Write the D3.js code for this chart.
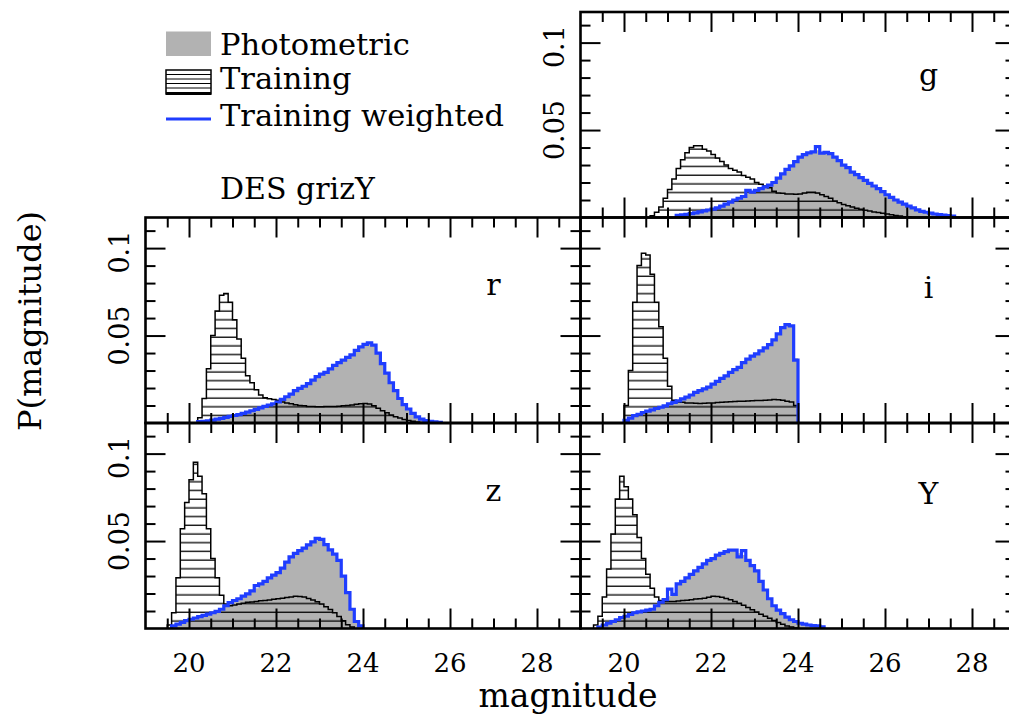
<!DOCTYPE html>
<html><head><meta charset="utf-8">
<script src="https://cdn.jsdelivr.net/npm/d3@7"></script>
<style>
body{margin:0;background:#fff}
svg{display:block}
text{font-family:"DejaVu Serif",serif;fill:#000}
</style>
</head><body>
<svg id="c" width="1009" height="722"></svg>
<script>
// ---------------- DATA ----------------
const bands = ["g", "r", "i", "z", "Y"];
const binWidth = 0.1;
const xMajorTicks = [20, 22, 24, 26, 28];
const xTickLabels = ["20", "22", "24", "26", "28"];
const yMajorTicks = [0.05, 0.1];
const yTickLabels = ["0.05", "0.1"];
const legendLabels = ["Photometric", "Training", "Training weighted"];
const surveyLabel = "DES grizY";

// g band
const gTrainStart = 20.6;
const gTrain = [.001,.003,.006,.011,.016,.022,.028,.033,.037,.040,.041,.041,.039,.038,.036,.034,.032,.030,.028,.027,.026,.024,.023,.022,.020,.019,.018,.017,.015,.014,.0138,.0135,.0135,.0133,.0135,.014,.0145,.0145,.014,.013,.012,.011,.0095,.0085,.0075,.0067,.006,.0053,.0047,.0042,.0037,.0032,.0028,.0024,.002,.0016,.0012,.0008,.0005,.0003];
const gPhotStart = 21.2;
const gPhot = [.0012,.0015,.0018,.0022,.0027,.0032,.0038,.0043,.0048,.0055,.0065,.0076,.0088,.0100,.011,.012,.0135,.0143,.0155,.0165,.0175,.0185,.020,.0225,.025,.0275,.0295,.032,.0345,.036,.037,.0375,.0385,.037,.0368,.0365,.0345,.0325,.030,.0285,.026,.0245,.0228,.0212,.0195,.018,.0165,.0148,.013,.0115,.010,.0088,.0076,.0065,.0055,.0044,.0035,.003,.0025,.002,.0017,.0014,.0011,.0008];
const gWeighted = [.0012,.0015,.0018,.0022,.0027,.0032,.0038,.0043,.0048,.0055,.0065,.0076,.0088,.0100,.011,.012,.0155,.0145,.0155,.0165,.0175,.0185,.020,.0225,.025,.0275,.0295,.032,.0345,.036,.037,.0375,.0405,.0368,.0372,.0365,.0345,.0325,.030,.0285,.026,.0245,.0228,.0212,.0195,.018,.0165,.0148,.013,.0115,.010,.0088,.0076,.0065,.0055,.0044,.0035,.003,.0025,.002,.0017,.0014,.0011,.0008];

// r band
const rTrainStart = 20.2;
const rTrain = [.003,.014,.031,.050,.064,.073,.074,.069,.059,.048,.037,.027,.023,.019,.016,.0145,.0138,.0135,.013,.012,.0115,.011,.0105,.010,.0098,.0095,.0094,.0093,.0093,.0094,.0094,.0095,.0096,.0098,.010,.0103,.0107,.011,.0112,.0108,.0098,.0085,.007,.0058,.0046,.0036,.0028,.002,.0015,.001,.0006,.0003];
const rPhotStart = 20.2;
const rPhot = [.0008,.001,.0013,.0017,.0022,.0027,.0032,.0038,.0043,.0048,.0055,.0062,.007,.0078,.0086,.0095,.0103,.011,.012,.0135,.015,.0165,.0185,.0198,.021,.0225,.0245,.0265,.028,.029,.031,.033,.0345,.036,.0375,.039,.0415,.0435,.045,.0452,.0445,.040,.034,.0285,.023,.0185,.014,.0105,.008,.0055,.0035,.0022,.0014,.001,.0007,.0004];
const rWeighted = [.0008,.001,.0013,.0017,.0022,.0027,.0032,.0038,.0043,.0048,.0055,.0062,.007,.0078,.0086,.0095,.0103,.011,.012,.0135,.015,.0165,.0185,.0198,.021,.0225,.0245,.0265,.028,.029,.031,.033,.0345,.036,.0375,.039,.0415,.0435,.045,.0458,.0445,.040,.034,.0285,.023,.0185,.014,.0105,.008,.0055,.0035,.0022,.0014,.001,.0007,.0004];

// i band
const iTrainStart = 20.0;
const iTrain = [.010,.030,.069,.090,.097,.096,.085,.069,.055,.037,.021,.013,.012,.0118,.0115,.0115,.0113,.0112,.0113,.0115,.0115,.0117,.0118,.012,.0122,.0123,.0124,.0125,.0126,.0127,.0128,.0128,.013,.0132,.0135,.0133,.013,.0125,.012,.010];
const iPhotStart = 20.0;
const iPhot = [.0015,.0028,.0042,.005,.006,.0068,.0075,.0083,.009,.0098,.011,.0118,.0127,.0138,.0148,.016,.0175,.0185,.0195,.0205,.0222,.0238,.0255,.027,.029,.0305,.0318,.0345,.0365,.0382,.0395,.0412,.043,.0448,.0475,.051,.0545,.0562,.0555,.037];
const iWeighted = [.0015,.0028,.0042,.005,.006,.0068,.0075,.0083,.009,.0098,.011,.0118,.0127,.0138,.0148,.016,.0175,.0185,.0195,.0205,.0222,.0238,.0255,.027,.029,.0305,.0318,.0345,.0365,.0382,.0395,.0412,.043,.0448,.0475,.051,.0545,.0562,.0555,.036];

// z band
const zTrainStart = 19.5;
const zTrain = [.002,.009,.029,.057,.072,.085,.095,.087,.077,.057,.040,.029,.019,.014,.013,.0135,.014,.0145,.015,.0152,.0155,.0158,.016,.0163,.0167,.017,.0173,.0177,.018,.0185,.0183,.018,.0172,.0163,.0153,.014,.0125,.0108,.009,.0068,.0045,.0022,.0008];
const zPhotStart = 19.6;
const zPhot = [.0015,.0025,.0035,.0045,.0053,.006,.0068,.0075,.0082,.009,.0098,.011,.013,.0148,.016,.017,.0185,.0198,.0215,.023,.0255,.027,.029,.0305,.032,.0345,.038,.041,.043,.0445,.046,.0478,.0495,.0505,.051,.048,.045,.0425,.039,.030,.0205,.011,.004,.0015];
const zWeighted = [.0015,.0025,.0035,.0045,.0053,.006,.0068,.0075,.0082,.009,.0098,.011,.013,.0148,.016,.017,.0185,.0198,.0215,.0245,.0255,.027,.029,.0305,.032,.0345,.038,.041,.043,.0445,.046,.0478,.0495,.0515,.051,.048,.045,.0425,.039,.030,.0205,.011,.004,.0015];

// Y band
const YTrainStart = 19.3;
const YTrain = [.002,.007,.018,.034,.054,.074,.087,.081,.074,.065,.052,.040,.031,.023,.018,.016,.0155,.0154,.0155,.0157,.016,.0162,.0165,.0168,.017,.0173,.0178,.0185,.0183,.0178,.0172,.0165,.0155,.0145,.0133,.012,.0107,.0094,.0082,.007,.0058,.0046,.0034,.0024,.0015,.0008,.0003];
const YPhotStart = 19.4;
const YPhot = [.0008,.002,.003,.004,.005,.0063,.007,.008,.009,.0095,.010,.0105,.011,.013,.015,.0165,.0185,.020,.0255,.027,.029,.031,.033,.035,.037,.039,.040,.042,.043,.044,.0448,.0448,.043,.042,.039,.036,.033,.027,.022,.017,.013,.0105,.0085,.0065,.005,.004,.003,.0025,.002,.0017,.0015,.001];
const YWeighted = [.0008,.002,.003,.004,.005,.0063,.007,.008,.009,.0095,.010,.0105,.011,.013,.015,.0165,.0225,.0195,.0255,.027,.029,.031,.033,.035,.037,.039,.040,.042,.043,.044,.0448,.0448,.041,.0445,.039,.036,.033,.027,.022,.017,.013,.0105,.0085,.0065,.005,.004,.003,.0025,.002,.0017,.0015,.001];

// ---------------- LAYOUT ----------------
const colX = [145.5, 580.5];
const rowY = [12, 217.5, 423];
const PW = 435, PH = 205.5;
const GRAY = "#b2b2b2", BLUE = "#1f3dff";

const panels = [
  {band: "g", row: 0, col: 1, tS: gTrainStart, t: gTrain, pS: gPhotStart, p: gPhot, w: gWeighted, ldy: 73},
  {band: "r", row: 1, col: 0, tS: rTrainStart, t: rTrain, pS: rPhotStart, p: rPhot, w: rWeighted, ldy: 77},
  {band: "i", row: 1, col: 1, tS: iTrainStart, t: iTrain, pS: iPhotStart, p: iPhot, w: iWeighted, ldy: 80},
  {band: "z", row: 2, col: 0, tS: zTrainStart, t: zTrain, pS: zPhotStart, p: zPhot, w: zWeighted, ldy: 78},
  {band: "Y", row: 2, col: 1, tS: YTrainStart, t: YTrain, pS: YPhotStart, p: YPhot, w: YWeighted, ldy: 81}
];

const svg = d3.select("#c");
const defs = svg.append("defs");

function stepPoints(start, vals) {
  const pts = [[start, 0]];
  vals.forEach((v, i) => {
    const a = start + i * binWidth;
    pts.push([a, v], [a + binWidth, v]);
  });
  pts.push([start + vals.length * binWidth, 0]);
  return pts;
}

const xMinor = d3.range(19.5, 29, 0.5).filter(v => Math.abs(v - Math.round(v)) > 0.1 || Math.round(v) % 2 === 1);
const yMinor = d3.range(0.01, 0.115, 0.01).filter(v => Math.abs(v - 0.05) > 1e-6 && Math.abs(v - 0.1) > 1e-6);

panels.forEach((pn, k) => {
  const x0 = colX[pn.col], y0 = rowY[pn.row];
  const x = d3.scaleLinear().domain([19, 29]).range([x0, x0 + PW]);
  const y = d3.scaleLinear().domain([0, 0.1175]).range([y0 + PH, y0]);

  const clipId = "clip" + k;
  defs.append("clipPath").attr("id", clipId).append("rect")
    .attr("x", x0).attr("y", y0).attr("width", PW).attr("height", PH);
  const patId = "hatch" + k;
  const pat = defs.append("pattern").attr("id", patId)
    .attr("patternUnits", "userSpaceOnUse")
    .attr("x", 0).attr("y", y0 + PH).attr("width", 20).attr("height", 8.7);
  pat.append("line").attr("x1", 0).attr("x2", 20).attr("y1", 1.2).attr("y2", 1.2)
    .attr("stroke", "#000").attr("stroke-width", 1.3);

  const g = svg.append("g").attr("clip-path", `url(#${clipId})`);
  const area = d3.area().x(d => x(d[0])).y0(y(0)).y1(d => y(d[1]));
  const line = d3.line().x(d => x(d[0])).y(d => y(d[1]));

  g.append("path").attr("d", area(stepPoints(pn.pS, pn.p))).attr("fill", GRAY);
  const tp = stepPoints(pn.tS, pn.t);
  g.append("path").attr("d", area(tp)).attr("fill", `url(#${patId})`);
  g.append("path").attr("d", line(tp)).attr("fill", "none").attr("stroke", "#000").attr("stroke-width", 1.5);
  g.append("path").attr("d", line(stepPoints(pn.pS, pn.w))).attr("fill", "none")
    .attr("stroke", BLUE).attr("stroke-width", 3.2).attr("stroke-linejoin", "miter");

  // ticks via d3 axes (all inward)
  const ax = svg.append("g");
  const addAxis = (gen, tx, ty) => {
    const a = ax.append("g").attr("transform", `translate(${tx},${ty})`).call(gen);
    a.select(".domain").remove();
    a.selectAll(".tick line").attr("stroke", "#000").attr("stroke-width", 2);
    a.selectAll(".tick text").remove();
  };
  addAxis(d3.axisBottom(x).tickValues(xMajorTicks).tickSize(-20), 0, y0 + PH);
  addAxis(d3.axisBottom(x).tickValues(xMinor).tickSize(-10), 0, y0 + PH);
  addAxis(d3.axisTop(x).tickValues(xMajorTicks).tickSize(-20), 0, y0);
  addAxis(d3.axisTop(x).tickValues(xMinor).tickSize(-10), 0, y0);
  addAxis(d3.axisLeft(y).tickValues(yMajorTicks).tickSize(-20), x0, 0);
  addAxis(d3.axisLeft(y).tickValues(yMinor).tickSize(-10), x0, 0);
  addAxis(d3.axisRight(y).tickValues(yMajorTicks).tickSize(-20), x0 + PW, 0);
  addAxis(d3.axisRight(y).tickValues(yMinor).tickSize(-10), x0 + PW, 0);

  svg.append("rect").attr("x", x0).attr("y", y0).attr("width", PW).attr("height", PH)
    .attr("fill", "none").attr("stroke", "#000").attr("stroke-width", 2.6);

  // band label
  svg.append("text").attr("x", x(27.0)).attr("y", y0 + pn.ldy)
    .attr("text-anchor", "middle").attr("font-size", 30).text(pn.band);

  // y tick labels
  if (pn.col === 0 || pn.row === 0) {
    yMajorTicks.forEach((v, j) => {
      svg.append("text")
        .attr("transform", `translate(${x0 - 16.5},${y(v) + (j === 1 ? 4 : 0)}) rotate(-90)`)
        .attr("text-anchor", "middle").attr("font-size", 27).text(yTickLabels[j]);
    });
  }
  // x tick labels
  if (pn.row === 2) {
    xMajorTicks.forEach((v, j) => {
      svg.append("text").attr("x", x(v)).attr("y", 672)
        .attr("text-anchor", "middle").attr("font-size", 26).text(xTickLabels[j]);
    });
  }
});

// axis titles
svg.append("text").attr("x", 568).attr("y", 707).attr("text-anchor", "middle")
  .attr("font-size", 33).text("magnitude");
svg.append("text").attr("transform", "translate(41,321) rotate(-90)")
  .attr("text-anchor", "middle").attr("font-size", 32).text("P(magnitude)");

// legend
const lg = svg.append("g");
lg.append("rect").attr("x", 166).attr("y", 31.5).attr("width", 45).attr("height", 24.5).attr("fill", GRAY);
lg.append("rect").attr("x", 166).attr("y", 70).attr("width", 45).attr("height", 24)
  .attr("fill", "#fff").attr("stroke", "#000").attr("stroke-width", 1.5);
[74.5, 79, 83.5, 88].forEach(yy => lg.append("line").attr("x1", 166).attr("x2", 211)
  .attr("y1", yy).attr("y2", yy).attr("stroke", "#000").attr("stroke-width", 1.2));
lg.append("line").attr("x1", 166).attr("x2", 211).attr("y1", 93.5).attr("y2", 93.5)
  .attr("stroke", "#000").attr("stroke-width", 2.8);
lg.append("line").attr("x1", 166).attr("x2", 211).attr("y1", 119).attr("y2", 119)
  .attr("stroke", BLUE).attr("stroke-width", 3);
const legY = [55, 89, 126];
legendLabels.forEach((t, j) => lg.append("text").attr("x", 220).attr("y", legY[j])
  .attr("font-size", 30.5).text(t));
lg.append("text").attr("x", 220).attr("y", 199).attr("font-size", 30).text(surveyLabel);
</script>
</body></html>
